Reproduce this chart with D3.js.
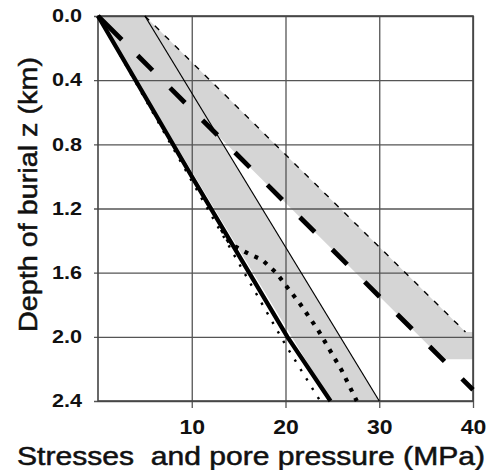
<!DOCTYPE html>
<html>
<head>
<meta charset="utf-8">
<script src="https://cdn.jsdelivr.net/npm/d3@7"></script>
<style>
  html, body { margin: 0; padding: 0; background: #fff; }
  svg { display: block; }
</style>
</head>
<body>
<svg id="chart" width="492" height="470"></svg>
<script>
// Axis ticks
const stressTicks = [10, 20, 30, 40];          // MPa
const depthTicks = [0.0, 0.4, 0.8, 1.2, 1.6, 2.0, 2.4]; // km

// Profiles: [stress (MPa), depth (km)]
const hydrostatic = [[0, 0], [10, 1.0], [20.2, 2.0], [24.8, 2.4]];
const hydroUpper = [[5, 0], [30, 2.4]];
const lithostatic = [[0, 0], [40, 2.33]];
const lithoUpper = [[5, 0], [39.2, 1.97]];
const porePressureLow = [[0, 0], [10.5, 1.08], [15.5, 1.59], [19.9, 2.04], [23.7, 2.4]];
const porePressureHigh = [[13.2, 1.33], [14.1, 1.42], [16.0, 1.48], [17.5, 1.52], [19.0, 1.60],
                          [20.3, 1.70], [21.5, 1.79], [23.5, 1.96], [26.0, 2.21], [27.6, 2.4]];

// Shaded ranges
const hydroBand = [[0, 0], [24.8, 2.4], [30, 2.4], [5, 0]];
const lithoBand = [[0, 0], [5, 0], [39.2, 1.97], [40, 1.97], [40, 2.14], [36.75, 2.14]];

const svg = d3.select("#chart");
const x = d3.scaleLinear().domain([0, 40]).range([98, 473]);
const y = d3.scaleLinear().domain([0, 2.4]).range([16, 401]);
const line = d3.line().x(d => x(d[0])).y(d => y(d[1]));
const font = "Liberation Sans, Arial, sans-serif";

// shaded bands
[hydroBand, lithoBand].forEach(b => {
  svg.append("path").attr("d", line(b) + "Z").attr("fill", "#d5d5d5").attr("stroke", "none");
});

// bottom axis with full-height grid lines
const xAxis = svg.append("g")
  .attr("transform", `translate(0,${y(2.4) + 7})`)
  .call(d3.axisBottom(x).tickValues(stressTicks).tickFormat(d3.format("d"))
        .tickSizeInner(-(y(2.4) + 7 - y(0))).tickSizeOuter(0).tickPadding(12));
xAxis.select(".domain").remove();
xAxis.selectAll(".tick line").attr("stroke", "#555").attr("stroke-width", 1.3);
xAxis.selectAll(".tick text")
  .attr("font-family", font)
  .attr("font-size", 20).attr("font-weight", "bold").attr("fill", "#111")
  .attr("transform", "scale(1.15,1)");

// left axis with full-width grid lines
const yAxis = svg.append("g")
  .attr("transform", `translate(${x(0) - 4},0)`)
  .call(d3.axisLeft(y).tickValues(depthTicks).tickFormat(d3.format(".1f"))
        .tickSizeInner(-(x(40) - x(0) + 4)).tickSizeOuter(0).tickPadding(12));
yAxis.select(".domain").remove();
yAxis.selectAll(".tick line").attr("stroke", "#555").attr("stroke-width", 1.3);
yAxis.selectAll(".tick text")
  .attr("font-family", font)
  .attr("font-size", 18).attr("font-weight", "bold").attr("fill", "#111")
  .attr("x", -12 / 1.2)
  .attr("transform", "scale(1.2,1)");

// plot frame
svg.append("rect")
  .attr("x", x(0)).attr("y", y(0))
  .attr("width", x(40) - x(0)).attr("height", y(2.4) - y(0))
  .attr("fill", "none").attr("stroke", "#444").attr("stroke-width", 1.6);

// profile lines
function draw(data, width, dash, offset) {
  svg.append("path").attr("d", line(data))
    .attr("fill", "none").attr("stroke", "#000")
    .attr("stroke-width", width)
    .attr("stroke-dasharray", dash || null)
    .attr("stroke-dashoffset", offset || 0)
    .attr("stroke-linecap", "butt");
}
// long dashes: a longer lead dash from the surface, then a regular rhythm
const longDash = [3, 0, 30.6, 22.4].concat(d3.range(12).flatMap(() => [21, 24.8])).join(",");

draw(hydroUpper, 1.2);
draw(lithoUpper, 1.4, "6,8");
draw(lithostatic, 4.8, longDash);
draw(porePressureLow, 2.4, "2.4,8.6");
draw(hydrostatic, 4.3);
draw(porePressureHigh, 4.2, "4,7");

// axis titles
svg.append("text")
  .attr("x", 251).attr("y", 465)
  .attr("text-anchor", "middle")
  .attr("font-family", font)
  .attr("font-size", 25).attr("fill", "#111")
  .attr("stroke", "#111").attr("stroke-width", 0.5)
  .attr("textLength", 468).attr("lengthAdjust", "spacingAndGlyphs")
  .style("white-space", "pre")
  .text("Stresses  and pore pressure (MPa)");

svg.append("text")
  .attr("transform", "translate(37,194.5) rotate(-90)")
  .attr("text-anchor", "middle")
  .attr("font-family", font)
  .attr("font-size", 25).attr("fill", "#111")
  .attr("stroke", "#111").attr("stroke-width", 0.5)
  .attr("textLength", 275).attr("lengthAdjust", "spacingAndGlyphs")
  .text("Depth of burial z (km)");
</script>
</body>
</html>
